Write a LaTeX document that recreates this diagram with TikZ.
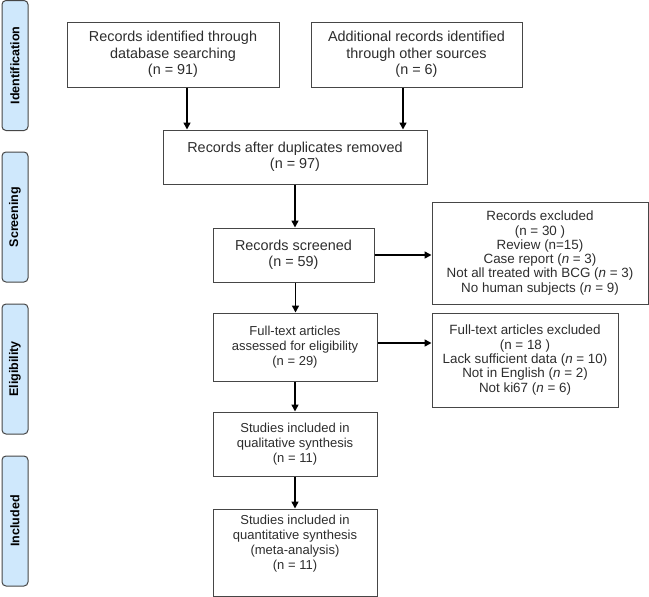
\documentclass[tikz,border=0pt]{standalone}
\usepackage{fontspec}
\setmainfont{Liberation Sans}
\usetikzlibrary{arrows.meta}
\definecolor{sidefill}{RGB}{207,232,252}
\definecolor{boxline}{RGB}{70,70,70}
\definecolor{txt}{RGB}{45,45,45}
\tikzset{
  box/.style={draw=boxline, line width=1pt, align=center, text=txt, inner sep=2pt},
  big/.style={font=\fontsize{14.4}{16.5}\selectfont},
  small/.style={font=\fontsize{13}{14.8}\selectfont},
  smaller/.style={font=\fontsize{13.4}{14.3}\selectfont},
  side/.style={draw=boxline, fill=sidefill, rounded corners=4pt, line width=1pt,
    minimum width=130pt, minimum height=26pt, inner sep=0pt, rotate=90,
    text=black, font=\bfseries\fontsize{12.5}{14}\selectfont},
  arr/.style={-{Triangle[length=7pt,width=7pt]}, line width=1.6pt, black}
}
\begin{document}
\begin{tikzpicture}[x=1pt,y=-1pt]
\useasboundingbox (0,0) rectangle (649,597);
% side labels
\node[side] (sid) at (15,65.5) {Identification};
\node[side] (sscr) at (15,217) {Screening};
\node[side] (selig) at (15,369) {Eligibility};
\node[side] (sinc) at (15,521) {Included};
% boxes
\node[box,big,minimum width=212pt,minimum height=65pt] (b1) at (173,54.5)
  {Records identified through\\database searching\\(n = 91)};
\node[box,big,minimum width=211pt,minimum height=65pt] (b2) at (416.5,54.5)
  {Additional records identified\\through other sources\\(n = 6)};
\node[box,big,minimum width=264pt,minimum height=54pt] (b3) at (295,157)
  {Records after duplicates removed\\(n = 97)};
\node[box,big,minimum width=161pt,minimum height=54pt] (b4) at (293.5,255)
  {Records screened\\(n = 59)};
\node[box,smaller,minimum width=216pt,minimum height=102pt] (b5) at (540,253)
  {Records excluded\\(n = 30 )\\Review (n=15)\\Case report (\textit{n} = 3)\\Not all treated with BCG (\textit{n} = 3)\\No human subjects (\textit{n} = 9)};
\node[box,small,minimum width=164pt,minimum height=68pt] (b6) at (295,347)
  {Full-text articles\\assessed for eligibility\\(n = 29)};
\node[box,smaller,minimum width=186pt,minimum height=94pt] (b7) at (525,360)
  {Full-text articles excluded\\(n = 18 )\\Lack sufficient data (\textit{n} = 10)\\Not in English (\textit{n} = 2)\\Not ki67 (\textit{n} = 6)};
\node[box,small,minimum width=164pt,minimum height=64pt] (b8) at (295,444)
  {Studies included in\\qualitative synthesis\\(n = 11)};
\node[box,small,minimum width=164pt,minimum height=87pt] (b9) at (295,552.5)
  {Studies included in\\quantitative synthesis\\(meta-analysis)\\(n = 11)\\[6pt]};
% arrows
\draw[arr] ([xshift=14pt]b1.south) -- ([xshift=14pt]b1.south |- b3.north);
\draw[arr] ([xshift=-13.5pt]b2.south) -- ([xshift=-13.5pt]b2.south |- b3.north);
\draw[arr] (b3.south) -- (b3.south |- b4.north);
\draw[arr] (b4.east) -- (b4.east -| b5.west);
\draw[arr] ([xshift=2pt]b4.south) -- ([xshift=2pt]b4.south |- b6.north);
\draw[arr] ([yshift=4pt]b6.east) -- ([yshift=4pt]b6.east -| b7.west);
\draw[arr] (b6.south) -- (b6.south |- b8.north);
\draw[arr] (b8.south) -- (b8.south |- b9.north);
\end{tikzpicture}
\end{document}
